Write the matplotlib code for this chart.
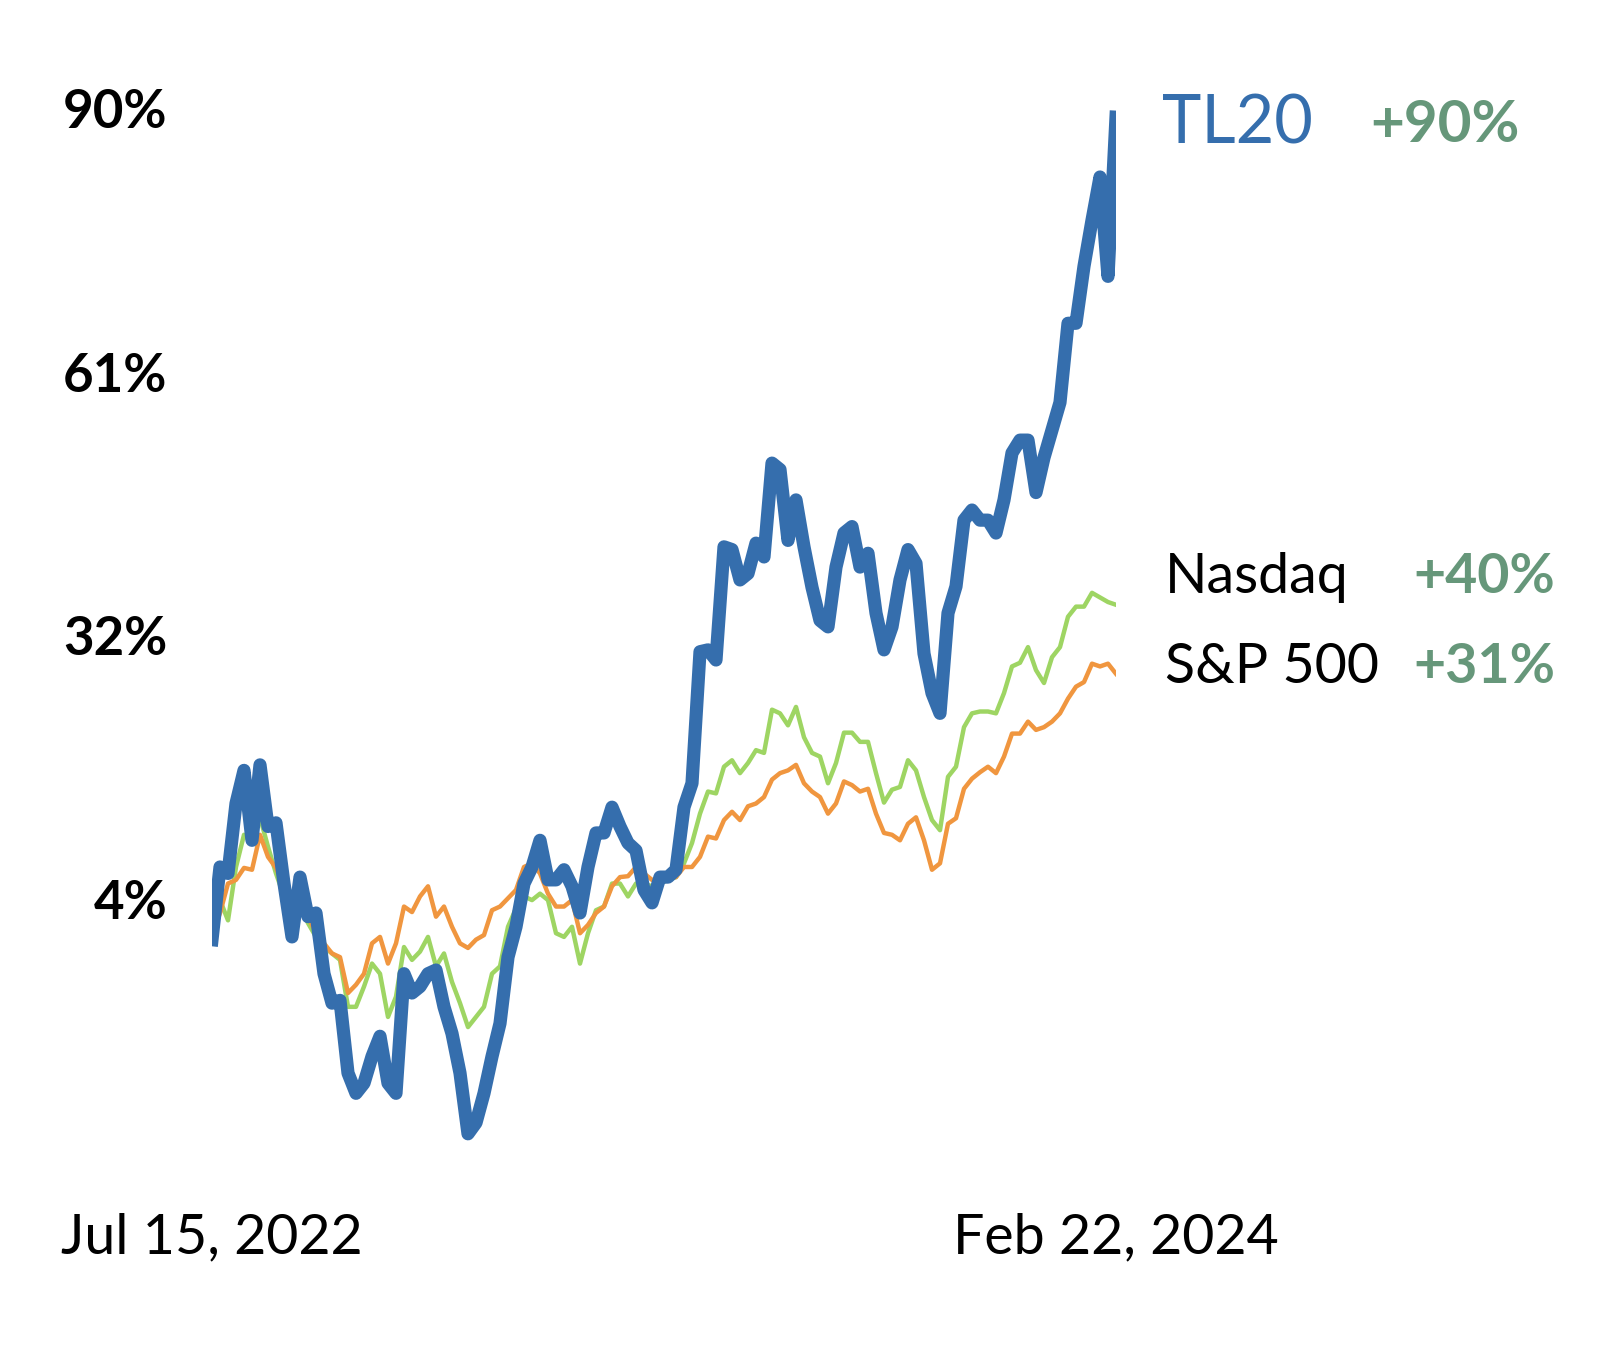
import numpy as np
import matplotlib.pyplot as plt

# cumulative return (%), sampled evenly from Jul 15, 2022 to Feb 22, 2024
tl20 = [-0.4, 7.5, 6.8, 14.4, 18.0, 10.4, 18.6, 11.9, 12.3, 5.7,
        -0.1, 6.4, 2.1, 2.5, -4.1, -7.3, -7.0, -14.9, -17.1, -16.0,
        -13.1, -10.9, -16.0, -17.1, -4.1, -6.2, -5.5, -4.1, -3.7, -7.7,
        -10.6, -14.9, -21.5, -20.3, -17.1, -13.1, -9.5, -2.3, 1.0, 5.7,
        7.5, 10.4, 6.1, 6.1, 7.2, 5.4, 2.5, 7.5, 11.2, 11.2,
        14.0, 11.9, 10.1, 9.3, 5.0, 3.6, 6.4, 6.4, 7.2, 14.0,
        16.6, 30.9, 31.1, 30.0, 42.3, 42.0, 38.7, 39.4, 42.7, 41.2,
        51.4, 50.7, 43.0, 47.4, 42.3, 37.9, 34.3, 33.6, 40.1, 43.8,
        44.5, 40.1, 41.6, 35.1, 31.1, 33.6, 38.7, 42.0, 40.5, 30.7,
        26.4, 24.2, 35.1, 38.0, 45.2, 46.3, 45.2, 45.2, 43.8, 47.4,
        52.5, 53.9, 53.9, 48.2, 52.0, 55.0, 58.0, 66.6, 66.6, 72.8,
        77.8, 82.5, 71.7, 89.0]

nasdaq = [0.0, 3.9, 1.7, 7.5, 11.0, 10.1, 12.9, 9.7, 6.8, 4.3,
          2.5, 3.2, 1.4, -0.1, -1.2, -1.9, -2.6, -7.7, -7.7, -5.5,
          -3.0, -4.1, -8.8, -6.6, -1.2, -2.6, -1.7, -0.1, -3.3, -1.9,
          -5.0, -7.3, -9.9, -8.8, -7.7, -4.1, -3.3, 1.0, 3.0, 4.3,
          3.9, 4.6, 3.9, 0.3, -0.1, 1.0, -3.0, 0.3, 2.8, 3.2,
          5.7, 5.7, 4.3, 5.7, 5.7, 5.4, 5.7, 6.1, 6.4, 7.9,
          10.1, 13.3, 15.7, 15.5, 18.4, 19.1, 17.7, 18.8, 20.2, 19.9,
          24.6, 24.2, 22.9, 24.9, 21.6, 19.9, 19.5, 16.6, 18.8, 22.1,
          22.1, 21.1, 21.1, 17.7, 14.5, 15.9, 16.2, 19.1, 18.0, 15.1,
          12.6, 11.5, 17.3, 18.4, 22.7, 24.2, 24.4, 24.4, 24.2, 26.4,
          29.3, 29.7, 31.4, 28.9, 27.5, 30.3, 31.4, 34.7, 35.8, 35.8,
          37.3, 36.8, 36.3, 36.0]

sp500 = [0.0, 2.5, 5.7, 6.1, 7.4, 7.2, 11.0, 8.6, 7.4, 5.4,
         2.8, 3.2, 2.1, 0.3, -0.8, -1.9, -2.3, -6.2, -5.3, -4.1,
         -0.8, -0.1, -3.0, -0.8, 3.2, 2.6, 4.3, 5.4, 2.1, 3.2,
         1.0, -0.8, -1.3, -0.4, 0.1, 2.8, 3.2, 4.1, 5.0, 7.5,
         7.9, 6.8, 4.6, 3.2, 3.2, 3.9, 0.3, 1.2, 2.5, 3.2,
         5.4, 6.4, 6.5, 7.5, 6.8, 6.1, 5.7, 6.4, 6.4, 7.5,
         7.5, 8.6, 10.8, 10.6, 12.6, 13.5, 12.6, 14.1, 14.4, 15.1,
         17.0, 17.7, 18.0, 18.6, 16.6, 15.7, 15.1, 13.3, 14.4, 16.8,
         16.4, 15.7, 16.0, 13.3, 11.2, 11.0, 10.4, 12.2, 12.9, 10.4,
         7.2, 7.9, 12.2, 12.8, 16.0, 17.1, 17.8, 18.4, 17.7, 19.5,
         22.0, 22.0, 23.3, 22.4, 22.7, 23.3, 24.2, 25.8, 27.1, 27.6,
         29.6, 29.3, 29.6, 28.5]

y_ticks = [4, 32.67, 61.33, 90]
y_tick_labels = ['4%', '32%', '61%', '90%']
x_tick_labels = ['Jul 15, 2022', 'Feb 22, 2024']

series_names = ['TL20', 'Nasdaq', 'S&P 500']
series_totals = ['+90%', '+40%', '+31%']

W, H = 1620, 1360
fig = plt.figure(figsize=(W / 100, H / 100), dpi=100)
ax = fig.add_axes([212 / W, 1 - 1160 / H, 904 / W, 1060 / H])

x = np.arange(len(tl20))
ax.plot(x, nasdaq, color='#9ED563', lw=3.2)
ax.plot(x, sp500, color='#F0963F', lw=3.2)
ax.plot(x, tl20, color='#356EAD', lw=9.5)

ax.set_xlim(0, len(tl20) - 1)
ax.set_ylim(-24.35, 90.87)
for s in ax.spines.values():
    s.set_visible(False)

ax.set_yticks(y_ticks, y_tick_labels, fontfamily='Lato', fontweight='bold', fontsize=38)
ax.set_xticks([0, len(tl20) - 1], x_tick_labels, fontfamily='Lato', fontsize=40)
ax.tick_params(axis='y', length=0, pad=32)
ax.tick_params(axis='x', length=0, pad=38)

# labels on the right
green = '#66977A'
fig.text(1162 / W, 1 - 143 / H, series_names[0], color='#356EAD',
         fontfamily='Lato', fontsize=48, va='baseline')
fig.text(1370 / W, 1 - 142 / H, series_totals[0], color=green,
         fontfamily='Lato', fontweight='bold', fontsize=42, va='baseline')
fig.text(1165 / W, 1 - 593 / H, series_names[1], color='black',
         fontfamily='Lato', fontsize=40, va='baseline')
fig.text(1413 / W, 1 - 593 / H, series_totals[1], color=green,
         fontfamily='Lato', fontweight='bold', fontsize=40, va='baseline')
fig.text(1165 / W, 1 - 683 / H, series_names[2], color='black',
         fontfamily='Lato', fontsize=40, va='baseline')
fig.text(1413 / W, 1 - 683 / H, series_totals[2], color=green,
         fontfamily='Lato', fontweight='bold', fontsize=40, va='baseline')

fig.savefig('out.png', dpi=100)
